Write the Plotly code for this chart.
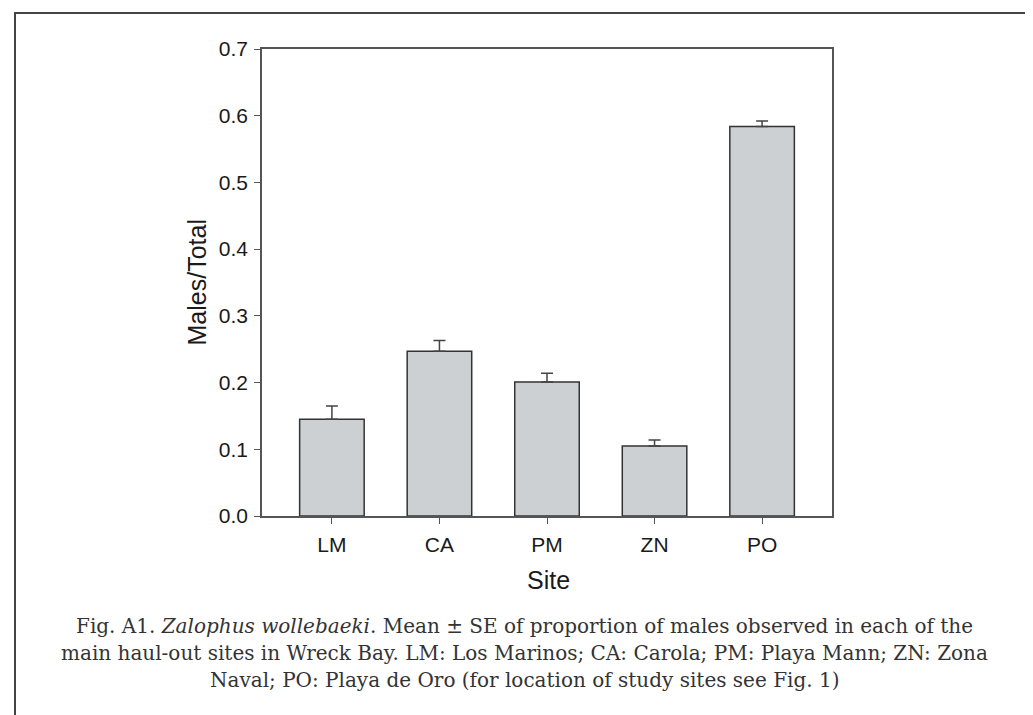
import plotly.graph_objects as go

sites = ["LM", "CA", "PM", "ZN", "PO"]
means = [0.145, 0.247, 0.201, 0.105, 0.584]
se = [0.020, 0.016, 0.013, 0.009, 0.008]
y_ticks = [0.0, 0.1, 0.2, 0.3, 0.4, 0.5, 0.6, 0.7]
caption_lines = [
    "Fig. A1. <i>Zalophus wollebaeki</i>. Mean ± SE of proportion of males observed in each of the",
    "main haul-out sites in Wreck Bay. LM: Los Marinos; CA: Carola; PM: Playa Mann; ZN: Zona",
    "Naval; PO: Playa de Oro (for location of study sites see Fig. 1)",
]

W, H = 1033, 715
L, R, T, B = 254, 824, 41, 508
pw, ph = R - L, B - T

def px(x):
    return (x - L) / pw

def py(y):
    return (B - y) / ph

fig = go.Figure()
fig.add_trace(go.Bar(
    x=list(range(len(sites))), y=means, width=0.6,
    marker=dict(color="#cdd0d3", line=dict(color="#333333", width=1.5)),
    error_y=dict(type="data", array=se, arrayminus=[0] * len(se), symmetric=False,
                 color="#444444", thickness=1.5, width=6),
    showlegend=False,
))

axis_common = dict(showline=True, mirror=True, linecolor="#555555", linewidth=1.5,
                   ticks="outside", ticklen=6, tickcolor="#555555", tickwidth=1.2,
                   showgrid=False, zeroline=False,
                   tickfont=dict(family="Liberation Sans, Arial", size=21, color="#1a1a1a"))

fig.update_layout(
    width=W, height=H,
    margin=dict(l=L, r=W - R, t=T, b=H - B, pad=0),
    paper_bgcolor="white", plot_bgcolor="white",
    xaxis=dict(range=[-0.65, 4.65], tickmode="array", tickvals=list(range(len(sites))),
               ticktext=sites, ticklabelstandoff=3, **axis_common),
    yaxis=dict(range=[0, 0.7], tickmode="array", tickvals=y_ticks,
               ticktext=[f"{v:.1f}" for v in y_ticks], ticklabelstandoff=2, **axis_common),
)

fig.add_annotation(text="Males/Total", xref="paper", yref="paper", x=px(188), y=py(274.5),
                   xanchor="center", yanchor="middle",
                   textangle=-90, showarrow=False,
                   font=dict(family="Liberation Sans, Arial", size=25, color="#1a1a1a"))
fig.add_annotation(text="Site", xref="paper", yref="paper", x=px(540), y=py(572),
                   xanchor="center", yanchor="middle",
                   showarrow=False,
                   font=dict(family="Liberation Sans, Arial", size=25, color="#1a1a1a"))

for i, line in enumerate(caption_lines):
    fig.add_annotation(text=line, xref="paper", yref="paper", x=px(516), y=py(618 + 27 * i),
                       xanchor="center", yanchor="middle",
                       showarrow=False,
                       font=dict(family="DejaVu Serif", size=20, color="#333333"))

fig.add_shape(type="rect", xref="paper", yref="paper",
              x0=px(7), x1=px(1045), y0=py(5), y1=py(730),
              line=dict(color="#444444", width=2), layer="below")

fig.write_html("out.html")
